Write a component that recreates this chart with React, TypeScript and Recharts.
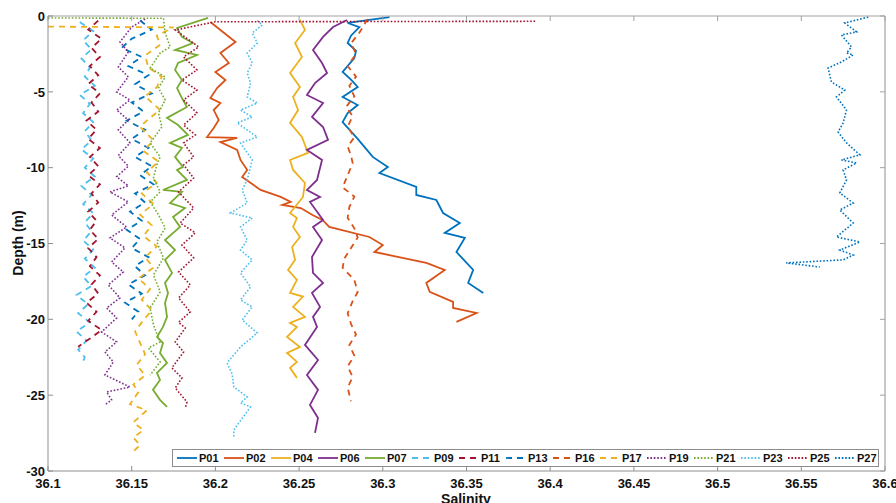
import React from 'react';
import { LineChart, Line, XAxis, YAxis, Legend } from 'recharts';

// [depth (m), salinity]
const P01: number[][] = [[-0.07,36.304],[-0.46,36.279],[-0.73,36.286],[-1.3,36.281],[-1.78,36.279],[-2.3,36.284],[-2.77,36.283],[-3.69,36.276],[-4.2,36.281],[-4.68,36.285],[-5.34,36.276],[-5.87,36.285],[-6.4,36.279],[-6.99,36.276],[-8.1,36.285],[-9.29,36.294],[-9.95,36.303],[-10.35,36.298],[-11.27,36.32],[-11.8,36.32],[-12.13,36.332],[-12.99,36.336],[-13.65,36.346],[-14.3,36.337],[-14.63,36.349],[-15.56,36.344],[-16.74,36.354],[-17.6,36.351],[-18.26,36.36]];
const P02: number[][] = [[-0.4,36.197],[-1.71,36.212],[-2.44,36.203],[-3.1,36.208],[-3.69,36.2],[-4.22,36.206],[-4.75,36.201],[-5.41,36.197],[-5.74,36.203],[-6.2,36.199],[-6.86,36.202],[-7.38,36.199],[-7.98,36.195],[-8.04,36.213],[-8.31,36.203],[-8.83,36.213],[-9.49,36.215],[-10.15,36.219],[-10.61,36.216],[-11.47,36.227],[-11.93,36.239],[-12.26,36.245],[-12.46,36.24],[-12.66,36.251],[-13.12,36.258],[-13.45,36.264],[-13.91,36.268],[-14.57,36.292],[-15.1,36.3],[-15.56,36.295],[-16.28,36.326],[-16.74,36.337],[-17.6,36.326],[-18.19,36.328],[-18.85,36.342],[-19.25,36.342],[-19.58,36.356],[-20.17,36.344]];
const P04: number[][] = [[-0.26,36.2505],[-0.92,36.2535],[-1.78,36.2476],[-2.7,36.2517],[-3.76,36.2446],[-4.68,36.2505],[-5.34,36.2464],[-6.2,36.2494],[-7.05,36.2446],[-7.98,36.2517],[-9.03,36.2553],[-9.49,36.2446],[-10.15,36.2464],[-11.01,36.2535],[-11.93,36.2523],[-12.99,36.2446],[-13.32,36.2487],[-13.91,36.2464],[-14.57,36.2505],[-15.23,36.2458],[-16.08,36.2476],[-16.74,36.2434],[-17.4,36.2487],[-18.26,36.2446],[-18.5,36.2523],[-19.18,36.2464],[-19.84,36.2535],[-20.24,36.2446],[-20.5,36.2487],[-21.16,36.2428],[-21.82,36.2505],[-22.22,36.2428],[-22.81,36.2487],[-23.2,36.2446],[-23.86,36.2487]];
const P06: number[][] = [[-0.26,36.2786],[-0.73,36.2703],[-1.38,36.2643],[-2.24,36.2583],[-3.1,36.2637],[-3.76,36.2667],[-4.42,36.2595],[-5.21,36.2547],[-5.74,36.2643],[-6.66,36.2577],[-7.32,36.2643],[-8.17,36.2673],[-8.83,36.2547],[-9.49,36.2637],[-10.81,36.2607],[-11.47,36.2547],[-11.93,36.2625],[-12.26,36.2565],[-13.45,36.2643],[-13.91,36.2583],[-14.77,36.2637],[-15.89,36.2577],[-16.94,36.2583],[-17.6,36.2643],[-18.26,36.2577],[-19.18,36.2625],[-19.84,36.2583],[-20.5,36.2607],[-21.69,36.2535],[-22.68,36.2613],[-23.67,36.2547],[-24.65,36.2613],[-25.64,36.2565],[-26.5,36.2613],[-27.49,36.2595]];
const P07: number[][] = [[-0.13,36.1956],[-0.79,36.1771],[-1.38,36.18],[-1.78,36.1866],[-2.24,36.1759],[-2.57,36.189],[-3.1,36.1777],[-3.56,36.1759],[-4.22,36.18],[-4.75,36.1771],[-5.41,36.18],[-6.0,36.183],[-6.72,36.1711],[-7.19,36.1777],[-7.84,36.1836],[-8.37,36.1729],[-8.7,36.18],[-9.29,36.1759],[-9.95,36.1806],[-10.15,36.1771],[-10.81,36.183],[-11.47,36.1687],[-11.6,36.18],[-12.33,36.1729],[-12.66,36.1818],[-13.25,36.1747],[-13.91,36.1789],[-14.77,36.1699],[-15.43,36.1759],[-16.08,36.1699],[-16.94,36.1741],[-17.6,36.1699],[-18.26,36.1717],[-18.92,36.1699],[-19.84,36.1711],[-20.5,36.1687],[-21.16,36.1651],[-21.56,36.1687],[-22.22,36.1669],[-22.87,36.1711],[-23.53,36.1651],[-24.0,36.1669],[-24.65,36.1627],[-25.31,36.1669],[-25.77,36.1711]];
const P09: number[][] = [[-0.4,36.119],[-1.0,36.127],[-1.6,36.121],[-2.2,36.126],[-2.8,36.12],[-3.4,36.125],[-4.0,36.122],[-4.6,36.128],[-5.2,36.119],[-5.8,36.125],[-6.4,36.121],[-7.0,36.127],[-7.6,36.122],[-8.2,36.126],[-8.8,36.12],[-9.4,36.127],[-10.0,36.122],[-10.6,36.128],[-11.2,36.12],[-11.8,36.126],[-12.4,36.121],[-13.0,36.127],[-13.6,36.122],[-14.2,36.126],[-14.8,36.121],[-15.4,36.127],[-16.0,36.122],[-16.6,36.128],[-17.2,36.121],[-17.8,36.126],[-18.4,36.117],[-19.0,36.124],[-19.6,36.118],[-20.2,36.125],[-20.8,36.117],[-21.4,36.123],[-22.0,36.118],[-22.5,36.122],[-23.0,36.12]];
const P11: number[][] = [[-0.3,36.13],[-0.9,36.124],[-1.5,36.132],[-2.1,36.126],[-2.7,36.131],[-3.3,36.125],[-3.9,36.13],[-4.5,36.124],[-5.1,36.131],[-5.7,36.126],[-6.3,36.13],[-6.9,36.123],[-7.5,36.129],[-8.1,36.124],[-8.7,36.131],[-9.3,36.125],[-9.9,36.13],[-10.5,36.124],[-11.1,36.131],[-11.7,36.126],[-12.3,36.13],[-12.9,36.124],[-13.5,36.129],[-14.1,36.125],[-14.7,36.13],[-15.3,36.124],[-15.9,36.129],[-16.5,36.125],[-17.1,36.131],[-17.7,36.126],[-18.3,36.13],[-18.9,36.123],[-19.5,36.129],[-20.1,36.124],[-20.7,36.132],[-21.2,36.126],[-21.8,36.118]];
const P13: number[][] = [[-0.3,36.155],[-0.9,36.162],[-1.5,36.15],[-2.1,36.144],[-2.7,36.156],[-3.3,36.148],[-3.9,36.16],[-4.5,36.152],[-5.1,36.162],[-5.7,36.15],[-6.3,36.157],[-6.9,36.147],[-7.5,36.158],[-8.1,36.15],[-8.7,36.16],[-9.3,36.152],[-9.9,36.162],[-10.5,36.155],[-11.1,36.163],[-11.7,36.152],[-12.3,36.158],[-12.9,36.149],[-13.5,36.156],[-14.1,36.147],[-14.7,36.155],[-15.3,36.15],[-15.9,36.16],[-16.5,36.152],[-17.1,36.158],[-17.7,36.148],[-18.3,36.156],[-18.9,36.146],[-19.5,36.154],[-20.0,36.15]];
const P16: number[][] = [[-0.2,36.291],[-1.1,36.286],[-1.8,36.281],[-2.5,36.284],[-3.3,36.279],[-4.0,36.284],[-4.6,36.28],[-5.3,36.283],[-6.0,36.278],[-6.6,36.282],[-7.3,36.279],[-8.0,36.283],[-8.6,36.279],[-9.2,36.281],[-9.7,36.282],[-10.5,36.279],[-11.3,36.276],[-11.9,36.283],[-12.6,36.28],[-13.3,36.279],[-14.0,36.283],[-14.6,36.285],[-15.3,36.281],[-16.0,36.277],[-16.6,36.276],[-17.4,36.283],[-18.2,36.285],[-18.8,36.282],[-19.6,36.279],[-20.3,36.281],[-21.0,36.284],[-21.7,36.28],[-22.4,36.283],[-23.1,36.279],[-23.8,36.282],[-24.5,36.279],[-25.4,36.281]];
const P17: number[][] = [[-0.7,36.1],[-0.75,36.175],[-1.3,36.165],[-1.9,36.167],[-2.6,36.158],[-3.4,36.16],[-4.0,36.168],[-4.7,36.165],[-5.3,36.158],[-6.2,36.167],[-6.8,36.16],[-7.3,36.155],[-8.2,36.163],[-8.9,36.157],[-9.6,36.166],[-10.3,36.159],[-11.0,36.165],[-11.7,36.156],[-12.4,36.163],[-13.1,36.155],[-13.8,36.162],[-14.5,36.157],[-15.2,36.165],[-15.9,36.158],[-16.6,36.163],[-17.3,36.154],[-18.0,36.161],[-18.7,36.156],[-19.4,36.162],[-20.2,36.156],[-20.8,36.152],[-21.3,36.154],[-22.3,36.158],[-23.0,36.153],[-23.7,36.158],[-24.3,36.151],[-24.8,36.154],[-25.6,36.149],[-26.0,36.159],[-26.8,36.151],[-27.3,36.157],[-27.8,36.151],[-28.3,36.155],[-28.8,36.15]];
const P19: number[][] = [[-0.2,36.158],[-0.73,36.15],[-1.71,36.143],[-2.37,36.148],[-3.36,36.142],[-4.02,36.148],[-5.01,36.141],[-5.54,36.149],[-6.2,36.141],[-6.86,36.148],[-7.51,36.142],[-8.37,36.149],[-9.2,36.142],[-9.9,36.148],[-10.6,36.141],[-11.2,36.148],[-11.6,36.137],[-12.26,36.148],[-13.12,36.138],[-13.91,36.147],[-14.63,36.137],[-15.29,36.146],[-16.22,36.138],[-16.88,36.145],[-17.73,36.136],[-18.59,36.143],[-19.25,36.135],[-19.91,36.141],[-20.83,36.132],[-21.49,36.141],[-22.15,36.134],[-22.81,36.139],[-23.67,36.134],[-24.46,36.149],[-24.79,36.135],[-25.31,36.138],[-25.64,36.134]];
const P21: number[][] = [[-0.13,36.1],[-0.15,36.169],[-1.12,36.17],[-2.04,36.173],[-2.44,36.167],[-3.43,36.161],[-4.02,36.17],[-4.75,36.166],[-5.54,36.17],[-6.39,36.166],[-7.32,36.168],[-8.37,36.161],[-9.29,36.167],[-9.82,36.165],[-10.68,36.163],[-11.6,36.167],[-12.26,36.161],[-13.1,36.166],[-13.98,36.17],[-14.9,36.165],[-15.95,36.169],[-17.07,36.163],[-18.19,36.167],[-19.25,36.161],[-20.37,36.163],[-21.49,36.167],[-21.89,36.16],[-22.81,36.167],[-23.67,36.161]];
const P23: number[][] = [[-0.3,36.225],[-0.59,36.228],[-1.12,36.222],[-1.78,36.225],[-2.44,36.219],[-3.1,36.222],[-3.76,36.219],[-4.42,36.221],[-5.34,36.219],[-5.74,36.225],[-6.2,36.215],[-6.66,36.222],[-7.05,36.213],[-7.98,36.225],[-8.37,36.215],[-9.49,36.222],[-10.81,36.219],[-11.47,36.216],[-12.33,36.219],[-12.99,36.209],[-13.32,36.222],[-13.91,36.215],[-14.77,36.219],[-15.43,36.215],[-16.08,36.222],[-16.94,36.215],[-17.86,36.221],[-18.72,36.215],[-19.18,36.222],[-20.04,36.216],[-20.9,36.225],[-21.82,36.215],[-22.87,36.207],[-23.6,36.21],[-24.46,36.211],[-25.12,36.219],[-25.51,36.215],[-25.77,36.221],[-27.29,36.211],[-27.75,36.211]];
const P25: number[][] = [[-0.35,36.391],[-0.38,36.2],[-0.92,36.176],[-2.04,36.19],[-2.7,36.181],[-3.56,36.189],[-4.22,36.18],[-4.88,36.189],[-5.54,36.181],[-6.39,36.189],[-7.19,36.181],[-7.84,36.188],[-8.37,36.181],[-9.29,36.187],[-9.82,36.181],[-10.68,36.187],[-11.6,36.178],[-12.66,36.187],[-13.65,36.179],[-14.3,36.188],[-15.1,36.18],[-15.95,36.187],[-16.88,36.178],[-17.73,36.185],[-18.59,36.178],[-19.51,36.185],[-20.2,36.178],[-20.57,36.182],[-21.49,36.176],[-22.15,36.181],[-23.2,36.174],[-23.86,36.18],[-24.52,36.176],[-25.45,36.183],[-25.84,36.182]];
const P27: number[][] = [[-0.07,36.59],[-0.46,36.576],[-1.05,36.583],[-1.25,36.574],[-2.04,36.58],[-2.44,36.577],[-2.57,36.581],[-3.03,36.574],[-3.43,36.566],[-4.35,36.568],[-4.88,36.576],[-5.34,36.571],[-6.2,36.577],[-7.05,36.575],[-7.65,36.572],[-8.37,36.577],[-9.16,36.585],[-9.49,36.574],[-9.69,36.583],[-10.15,36.575],[-10.81,36.577],[-11.67,36.573],[-12.33,36.581],[-12.79,36.573],[-13.65,36.581],[-14.57,36.571],[-14.9,36.585],[-15.43,36.573],[-15.76,36.581],[-16.08,36.575],[-16.28,36.541],[-16.55,36.561]];

const seriesNames = ['P01','P02','P04','P06','P07','P09','P11','P13','P16','P17','P19','P21','P23','P25','P27'];
const seriesValues = [P01,P02,P04,P06,P07,P09,P11,P13,P16,P17,P19,P21,P23,P25,P27];
const xTicks = [36.1,36.15,36.2,36.25,36.3,36.35,36.4,36.45,36.5,36.55,36.6];
const yTicks = [0,-5,-10,-15,-20,-25,-30];
const X_DOMAIN = [36.1, 36.6];
const Y_DOMAIN = [-30, 0];

const colors = ['#0072BD','#D95319','#EDB120','#7E2F8E','#77AC30','#4DBEEE','#A2142F','#0072BD','#D95319','#EDB120','#7E2F8E','#77AC30','#4DBEEE','#A2142F','#0072BD'];
const styleOf = (i: number) => (i < 5 ? undefined : i < 10 ? '6 5' : '1.6 1.8');

const series = seriesNames.map((name, i) => ({
  name,
  color: colors[i],
  dash: styleOf(i),
  data: seriesValues[i].map(([d, s]) => ({ d, s })),
}));

// layout
const CH_W = 896;
const CH_H = 503;
const M_TOP = 16;
const M_RIGHT = 11;
const X_AXIS_H = 32;
const Y_AXIS_W = 48;
const PLOT_W = CH_W - M_RIGHT - Y_AXIS_W;
const PLOT_H = CH_H - M_TOP - X_AXIS_H;

const FONT = '"Liberation Sans", Arial, Helvetica, sans-serif';
const AX = '#8f8f8f';
const BOX = '#a2a2a2';

// bottom axis tick: inward tick, label, plus the matching tick on the top frame;
// the leftmost tick also draws the top border of the box
const XTick = (props: any) => {
  const { x, y, payload } = props;
  const top = y - PLOT_H;
  const isFirst = Math.abs(Number(payload.value) - X_DOMAIN[0]) < 1e-9;
  return (
    <g>
      <line x1={x} x2={x} y1={y} y2={y - 5} stroke={AX} strokeWidth={1} />
      <line x1={x} x2={x} y1={top} y2={top + 5} stroke={BOX} strokeWidth={1} />
      {isFirst && <line x1={x} x2={x + PLOT_W} y1={top} y2={top} stroke={BOX} strokeWidth={1.2} />}
      <text x={x} y={y + 17} textAnchor="middle" fontFamily={FONT} fontWeight={700} fontSize={13} fill="#111">
        {payload.value}
      </text>
    </g>
  );
};
// left axis tick: inward tick, label, plus the matching tick on the right frame;
// the bottom tick also draws the right border of the box
const YTick = (props: any) => {
  const { x, y, payload } = props;
  const right = x + PLOT_W;
  const isBottom = Math.abs(Number(payload.value) - Y_DOMAIN[0]) < 1e-9;
  return (
    <g>
      <line x1={x} x2={x + 5} y1={y} y2={y} stroke={AX} strokeWidth={1} />
      <line x1={right} x2={right - 5} y1={y} y2={y} stroke={BOX} strokeWidth={1} />
      {isBottom && <line x1={right} x2={right} y1={y} y2={y - PLOT_H} stroke={BOX} strokeWidth={1.2} />}
      <text x={x - 3} y={y} dy="0.36em" textAnchor="end" fontFamily={FONT} fontWeight={700} fontSize={13} fill="#111">
        {payload.value}
      </text>
    </g>
  );
};

const LegendBox = () => (
  <div
    style={{
      width: 705,
      height: 16,
      border: '1px solid #8c8c8c',
      background: '#fff',
      display: 'flex',
      alignItems: 'center',
      fontFamily: FONT,
      fontWeight: 700,
      fontSize: 11,
      color: '#111',
      lineHeight: '16px',
    }}
  >
    {series.map((s) => (
      <div key={s.name} style={{ flex: '0 0 47px', display: 'flex', alignItems: 'center' }}>
        <svg width={25} height={8} style={{ display: 'block' }}>
          <line x1={4} x2={24} y1={4} y2={4} stroke={s.color} strokeWidth={1.8} strokeDasharray={s.dash} />
        </svg>
        <span style={{ marginLeft: 1 }}>{s.name}</span>
      </div>
    ))}
  </div>
);

export default function App() {
  return (
    <div style={{ position: 'absolute', left: 0, top: 0, width: CH_W, height: CH_H, background: '#fff' }}>
      <LineChart width={CH_W} height={CH_H} margin={{ top: M_TOP, right: M_RIGHT, bottom: 0, left: 0 }}>
        <XAxis
          dataKey="s"
          type="number"
          domain={X_DOMAIN}
          ticks={xTicks}
          allowDataOverflow
          height={X_AXIS_H}
          tickSize={0}
          tickMargin={0}
          tickLine={false}
          stroke={AX}
          tick={<XTick />}
          interval={0}
          label={{
            content: () => (
              <text x={466} y={504} textAnchor="middle" fontFamily={FONT} fontWeight={700} fontSize={14} fill="#111">
                Salinity
              </text>
            ),
          }}
        />
        <YAxis
          type="number"
          domain={Y_DOMAIN}
          ticks={yTicks}
          allowDataOverflow
          width={Y_AXIS_W}
          tickSize={0}
          tickMargin={0}
          tickLine={false}
          stroke={AX}
          tick={<YTick />}
          interval={0}
          label={{
            content: () => (
              <text
                x={18}
                y={243}
                transform="rotate(-90 18 243)"
                textAnchor="middle"
                dominantBaseline="central"
                fontFamily={FONT}
                fontWeight={700}
                fontSize={14}
                fill="#111"
              >
                Depth (m)
              </text>
            ),
          }}
        />
        {series.map((s) => (
          <Line
            key={s.name}
            data={s.data}
            dataKey="d"
            name={s.name}
            type="linear"
            stroke={s.color}
            strokeWidth={s.dash && s.dash.startsWith('1.6') ? 1.6 : 1.8}
            strokeDasharray={s.dash}
            dot={false}
            activeDot={false}
            isAnimationActive={false}
          />
        ))}
        <Legend
          layout="horizontal"
          verticalAlign="middle"
          align="center"
          content={<LegendBox />}
          wrapperStyle={{ left: 172, top: 449, width: 707, height: 18 }}
        />
      </LineChart>
    </div>
  );
}
